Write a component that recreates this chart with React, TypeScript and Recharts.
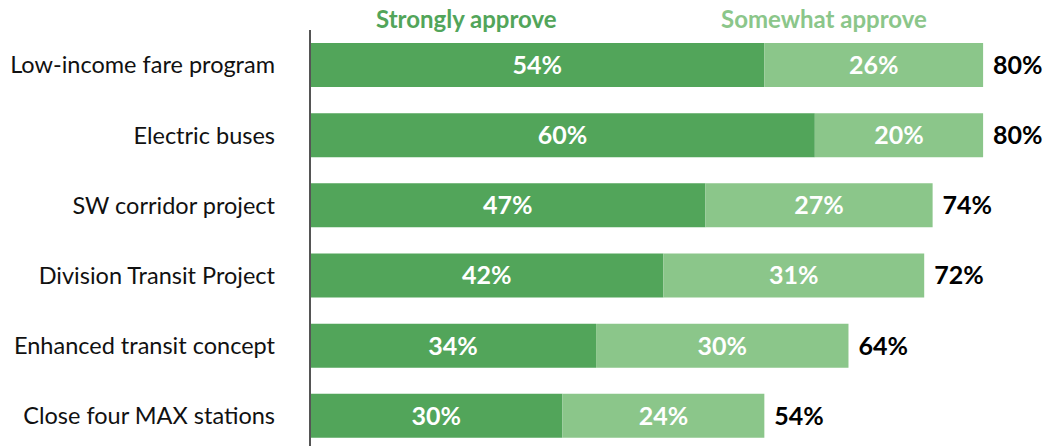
import React from "react";
import { BarChart, Bar, XAxis, YAxis, LabelList } from "recharts";

const categories = [
  "Low-income fare program",
  "Electric buses",
  "SW corridor project",
  "Division Transit Project",
  "Enhanced transit concept",
  "Close four MAX stations",
];
const stronglyApprove = [54, 60, 47, 42, 34, 30];
const somewhatApprove = [26, 20, 27, 31, 30, 24];
const totalLabels = ["80%", "80%", "74%", "72%", "64%", "54%"];
const seriesNames = ["Strongly approve", "Somewhat approve"];

const DARK = "#52a55a";
const LIGHT = "#8bc68a";
const FONT = "Lato, 'Open Sans', sans-serif";

const data = categories.map((name, i) => ({
  name,
  strongly: stronglyApprove[i],
  somewhat: somewhatApprove[i],
  total: totalLabels[i],
}));

const pct = (v: any) => `${v}%`;

export default function App() {
  return (
    <div style={{ position: "absolute", left: 0, top: 0, width: 1049, height: 446, overflow: "hidden", background: "#fff" }}>
      <div style={{ position: "absolute", left: 0, top: 0, width: 1049, height: 30, fontFamily: FONT, fontWeight: 700, fontSize: 24, lineHeight: "30px", zIndex: 2 }}>
        <span style={{ position: "absolute", left: 376, top: 4, color: DARK, whiteSpace: "nowrap" }}>{seriesNames[0]}</span>
        <span style={{ position: "absolute", left: 721, top: 4, color: LIGHT, whiteSpace: "nowrap" }}>{seriesNames[1]}</span>
      </div>
      <BarChart
        width={1049}
        height={451}
        data={data}
        layout="vertical"
        margin={{ top: 30, right: 7, bottom: 0, left: 0 }}
      >
        <XAxis type="number" domain={[0, 87]} hide />
        <YAxis
          type="category"
          dataKey="name"
          width={310}
          tickLine={false}
          tickSize={0}
          tickMargin={35}
          axisLine={{ stroke: "#555", strokeWidth: 2 }}
          tick={{ fill: "#111", fontSize: 23.5, fontFamily: FONT }}
          interval={0}
        />
        <Bar dataKey="strongly" name={seriesNames[0]} stackId="a" fill={DARK} barSize={44} isAnimationActive={false}>
          <LabelList dataKey="strongly" position="center" formatter={pct} fill="#fff" fontSize={25} fontWeight={700} fontFamily={FONT} />
        </Bar>
        <Bar dataKey="somewhat" name={seriesNames[1]} stackId="a" fill={LIGHT} barSize={44} isAnimationActive={false}>
          <LabelList dataKey="somewhat" position="center" formatter={pct} fill="#fff" fontSize={25} fontWeight={700} fontFamily={FONT} />
          <LabelList dataKey="total" position="right" offset={10} fill="#000" fontSize={25} fontWeight={700} fontFamily={FONT} />
        </Bar>
      </BarChart>
    </div>
  );
}
